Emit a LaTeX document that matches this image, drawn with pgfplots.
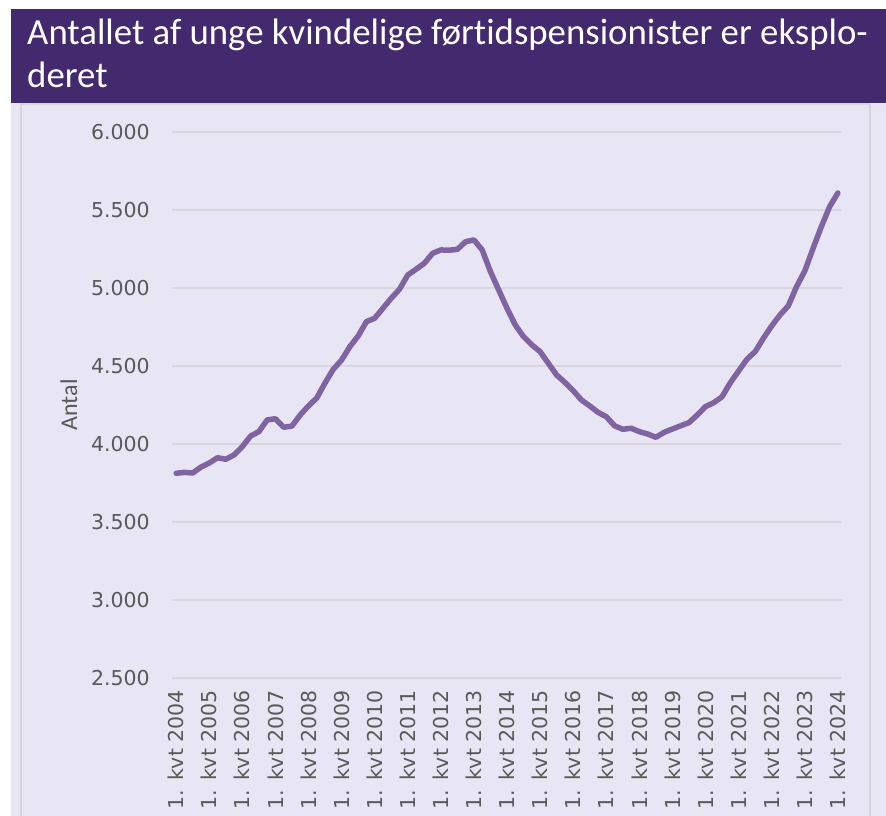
\documentclass[border=0pt]{standalone}
\usepackage{pgfplots}
\pgfplotsset{compat=1.18}
\usepackage{fontspec}
\setmainfont{DejaVu Sans}
\newfontfamily\carlito[RawFeature={-liga;-clig;-calt;-dlig;-rlig}]{Carlito}
\definecolor{titlepurple}{HTML}{432A6F}
\definecolor{lavender}{HTML}{E8E5F4}
\definecolor{linepurple}{HTML}{8064A2}
\definecolor{gridgray}{HTML}{D9D6DE}
\definecolor{bordergray}{HTML}{D8D6DC}
\definecolor{textgray}{HTML}{595959}
\begin{document}
\begin{tikzpicture}[x=1bp,y=1bp]
\useasboundingbox (0,0) rectangle (886,816);
\fill[white] (0,0) rectangle (886,816);
\fill[lavender] (11,0) rectangle (886,713);
\fill[titlepurple] (11,713) rectangle (886,807);
\draw[bordergray, line width=1.5bp] (21,-5) -- (21,712) -- (870,712) -- (870,-5);
\node[anchor=base west, inner sep=0pt, text=white, font=\carlito\fontsize{36.8bp}{42bp}\selectfont] at (27,771) {Antallet af unge kvindelige førtidspensionister er eksplo-};
\node[anchor=base west, inner sep=0pt, text=white, font=\carlito\fontsize{36.8bp}{42bp}\selectfont] at (27,728) {deret};
\begin{axis}[
  at={(172bp,138bp)}, anchor=south west,
  scale only axis, width=670bp, height=546bp,
  xmin=-0.5, xmax=80.5, ymin=2500, ymax=6000,
  ytick={2500,3000,3500,4000,4500,5000,5500,6000},
  xtick={0,4,...,80},
  xticklabels={1. kvt 2004,1. kvt 2005,1. kvt 2006,1. kvt 2007,1. kvt 2008,1. kvt 2009,1. kvt 2010,1. kvt 2011,1. kvt 2012,1. kvt 2013,1. kvt 2014,1. kvt 2015,1. kvt 2016,1. kvt 2017,1. kvt 2018,1. kvt 2019,1. kvt 2020,1. kvt 2021,1. kvt 2022,1. kvt 2023,1. kvt 2024},
  axis line style={draw=none},
  tick style={draw=none},
  ymajorgrids,
  grid style={color=gridgray, line width=1.5bp},
  /pgf/number format/.cd, 1000 sep={.}, assume math mode=true, fixed,
  /pgfplots/.cd,
  yticklabel style={font=\fontsize{20.5bp}{24bp}\selectfont, text=textgray, anchor=east, inner sep=0pt},
  yticklabel shift=22bp,
  xticklabel style={font=\fontsize{20.5bp}{24bp}\selectfont, text=textgray, rotate=90, anchor=east, inner sep=0pt},
  xticklabel shift=12bp,
  ylabel={Antal},
  ylabel style={font=\carlito\fontsize{24bp}{28bp}\selectfont, text=textgray, at={(axis description cs:-0.154,0.5)}, anchor=center, rotate=0},
  clip=false,
]
\addplot[linepurple, line width=5.5bp, line join=round, line cap=round] table[x=i, y=v] {
i v
0 3812
1 3818
2 3814
3 3852
4 3878
5 3912
6 3902
7 3930
8 3983
9 4051
10 4079
11 4154
12 4162
13 4107
14 4115
15 4186
16 4244
17 4295
18 4391
19 4479
20 4538
21 4624
22 4692
23 4784
24 4806
25 4870
26 4934
27 4992
28 5083
29 5120
30 5158
31 5222
32 5244
33 5242
34 5248
35 5297
36 5308
37 5244
38 5105
39 4987
40 4870
41 4763
42 4688
43 4635
44 4592
45 4517
46 4442
47 4395
48 4342
49 4282
50 4244
51 4203
52 4175
53 4117
54 4094
55 4101
56 4079
57 4064
58 4043
59 4075
60 4096
61 4117
62 4137
63 4186
64 4240
65 4265
66 4303
67 4393
68 4468
69 4543
70 4592
71 4678
72 4757
73 4827
74 4885
75 5008
76 5109
77 5254
78 5393
79 5521
80 5609
};
\end{axis}
\end{tikzpicture}
\end{document}
